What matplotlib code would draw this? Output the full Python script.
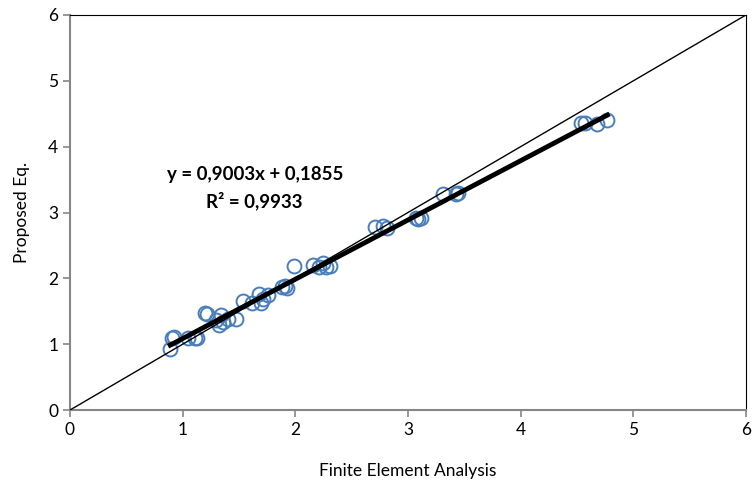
import numpy as np
import matplotlib.pyplot as plt

plt.rcParams['font.family'] = ['Lato', 'DejaVu Sans']

# Finite element analysis vs proposed equation
fea = [0.89, 0.905, 0.92, 1.05, 1.11, 1.13, 1.20, 1.22, 1.30, 1.32, 1.34, 1.36,
       1.40, 1.47, 1.54, 1.62, 1.68, 1.70, 1.71, 1.76, 1.88, 1.91, 1.93, 1.99,
       2.16, 2.21, 2.25, 2.27, 2.31, 2.71, 2.78, 2.81, 3.07, 3.09, 3.12, 3.31,
       3.43, 3.44, 4.54, 4.57, 4.68, 4.77]
prop = [0.93, 1.10, 1.11, 1.09, 1.10, 1.09, 1.47, 1.46, 1.37, 1.29, 1.44, 1.34,
        1.39, 1.38, 1.65, 1.62, 1.77, 1.62, 1.68, 1.75, 1.87, 1.88, 1.85, 2.19,
        2.20, 2.18, 2.23, 2.18, 2.19, 2.78, 2.80, 2.77, 2.91, 2.90, 2.92, 3.28,
        3.28, 3.29, 4.36, 4.36, 4.35, 4.40]
slope = 0.9003
intercept = 0.1855

fig = plt.figure(figsize=(7.52, 4.83), dpi=100)
ax = fig.add_axes([0.093, 0.151, 0.899, 0.818])

ax.plot(fea, prop, 'o', mfc='none', mec='#4a7ebb', ms=10, mew=1.4, zorder=2)

xt = np.array([min(fea), max(fea)])
ax.plot(xt, slope * xt + intercept, color='black', lw=3.5, zorder=3)
ax.plot([0, 6], [0, 6], color='black', lw=1, zorder=3)

ax.text(1.64, 3.57, 'y = 0,9003x + 0,1855', ha='center', va='center',
        fontsize=13.5, fontweight='bold')
ax.text(1.64, 3.17, 'R² = 0,9933', ha='center', va='center',
        fontsize=13.5, fontweight='bold')

ax.set_xlim(0, 6)
ax.set_ylim(0, 6)
ax.set_xticks(range(7))
ax.set_yticks(range(7))
ax.tick_params(labelsize=12.5, direction='out', length=5, width=1.2, color='#868686')
ax.spines['left'].set_color('#868686')
ax.spines['bottom'].set_color('#868686')
ax.spines['left'].set_linewidth(1.5)
ax.spines['bottom'].set_linewidth(1.5)
ax.spines['top'].set_color('black')
ax.spines['right'].set_color('black')
ax.set_xlabel('Finite Element Analysis', fontsize=12.5, labelpad=18)
ax.set_ylabel('Proposed Eq.', fontsize=12.5, labelpad=13)

fig.savefig('out.png', dpi=100)
